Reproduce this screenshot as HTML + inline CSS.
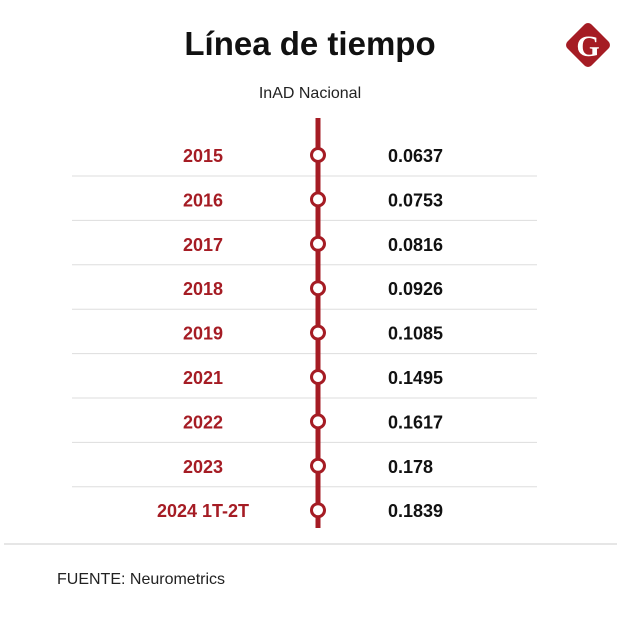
<!DOCTYPE html>
<html><head><meta charset="utf-8"><style>
body{margin:0;background:#fff;width:620px;height:616px;overflow:hidden;font-family:"Liberation Sans",sans-serif;}
</style></head><body>
<svg width="620" height="616">
<text x="310" y="55" text-anchor="middle" font-size="33" font-weight="bold" fill="#111">Línea de tiempo</text>
<text x="310" y="98" text-anchor="middle" font-size="16" fill="#222">InAD Nacional</text>
<g>
<rect x="571" y="28" width="34" height="34" rx="5" fill="#a51c24" transform="rotate(45 588 45)"/>
<text x="588" y="56" text-anchor="middle" font-size="30" font-weight="bold" font-family="Liberation Serif,serif" fill="#fff">G</text>
</g>
<g id="rows"></g>
<line x1="4" y1="544" x2="617" y2="544" stroke="#ccc" stroke-width="1"/>
<text x="57" y="584" font-size="16" fill="#222">FUENTE: Neurometrics</text>
</svg>
<script>
const years=["2015","2016","2017","2018","2019","2021","2022","2023","2024 1T-2T"];
const values=["0.0637","0.0753","0.0816","0.0926","0.1085","0.1495","0.1617","0.178","0.1839"];
const ns="http://www.w3.org/2000/svg";
const g=document.getElementById('rows');
function mk(t,a){const e=document.createElementNS(ns,t);for(const k in a)e.setAttribute(k,a[k]);return e;}
const y0=155,step=44.4;
const rowY=i=>y0+i*step;
const line=mk('line',{x1:318,y1:118,x2:318,y2:528,stroke:'#a51c24','stroke-width':5});


g.appendChild(line);
years.forEach((yr,i)=>{
  const y=rowY(i);
  if(i<years.length-1){
    const s=mk('line',{x1:72,y1:y+21,x2:537,y2:y+21,stroke:'#ddd','stroke-width':1});
    
    
    g.insertBefore(s,line);
  }
  const t=mk('text',{x:203,y:y+7,'text-anchor':'middle','font-size':18,'font-weight':'bold',fill:'#a51c24'});
  t.textContent=yr;
  
  
  g.appendChild(t);
  const c=mk('circle',{cx:318,cy:y,r:6.5,fill:'#fff',stroke:'#a51c24','stroke-width':3});
  
  
  g.appendChild(c);
  const v=mk('text',{x:388,y:y+7,'font-size':18,'font-weight':'bold',fill:'#111'});
  v.textContent=values[i];
  
  
  g.appendChild(v);
});
</script>
</body></html>
